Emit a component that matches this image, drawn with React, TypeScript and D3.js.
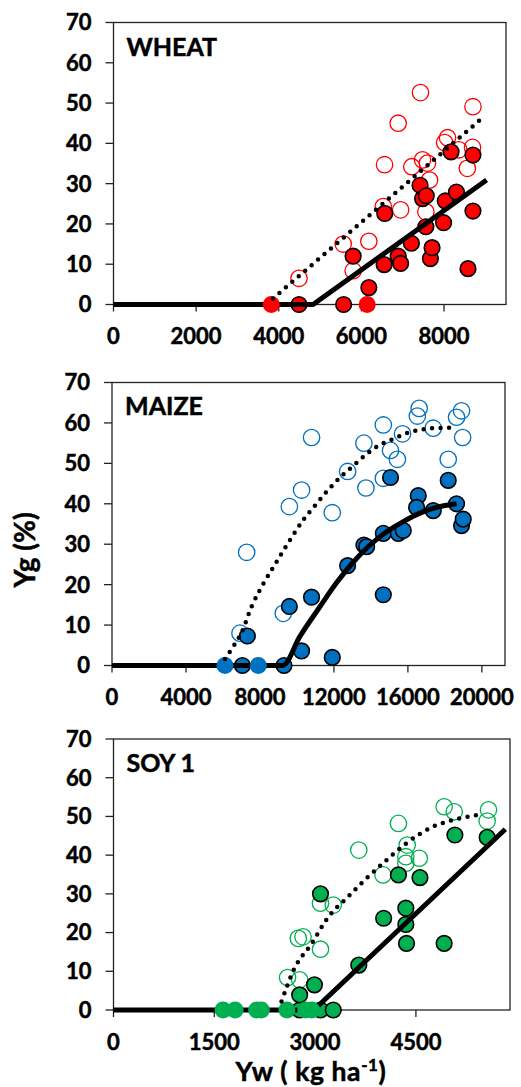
import React from 'react';
import * as d3 from 'd3';

const W = 521;
const H = 1087;
const FONT = "Lato, 'Open Sans', sans-serif";

type Pt = [number, number];

const yTicks = [0, 10, 20, 30, 40, 50, 60, 70];

// WHEAT
const wheatTicks = [0, 2000, 4000, 6000, 8000];
const wheatFilled: Pt[] = [
  [4490, 0], [5570, 0], [6180, 4.2], [5800, 12.0], [6550, 9.9], [6565, 22.6],
  [6890, 12.0], [6950, 10.2], [7210, 15.2], [7420, 29.6], [7480, 26.3],
  [7570, 27.0], [7560, 19.3], [7670, 11.4], [7710, 14.1], [7990, 20.3],
  [8030, 25.7], [8170, 37.9], [8300, 27.9], [8580, 8.9], [8700, 37.1], [8700, 23.2],
];
const wheatOpen: Pt[] = [
  [4490, 6.5], [5560, 15.0], [5800, 8.4], [6180, 15.7], [6560, 34.7], [6530, 24.3],
  [6890, 45.0], [6950, 23.5], [7220, 34.2], [7430, 52.6], [7480, 35.9], [7600, 35.1],
  [7650, 30.9], [7560, 23.0], [8015, 40.2], [8085, 41.4], [8360, 38.4], [8565, 33.8],
  [8700, 49.1], [8690, 39.0],
];
const wheatZero: Pt[] = [[3820, 0], [6140, 0]];
const wheatSolid: Pt[] = [[0, 0], [4830, 0], [9030, 30.9]];
const wheatDotted: Pt[] = [[3860, 1.5], [8950, 46.5]];

// MAIZE
const maizeTicks = [0, 4000, 8000, 12000, 16000, 20000];
const maizeFilled: Pt[] = [
  [7050, 0], [9300, 0], [7320, 7.3], [9590, 14.6], [10250, 3.6], [10790, 16.9],
  [11910, 2.0], [12740, 24.7], [13620, 29.8], [13770, 29.4], [14670, 32.7],
  [14670, 17.5], [15060, 46.5], [15480, 32.7], [15750, 33.4], [16560, 42.0],
  [16470, 39.1], [17370, 38.3], [18180, 45.8], [18630, 40.0], [18900, 34.6], [18990, 36.2],
];
const maizeOpen: Pt[] = [
  [6920, 8.0], [7280, 28.0], [9260, 12.9], [9590, 39.3], [10250, 43.4], [10790, 56.4],
  [11910, 37.8], [12740, 48.0], [13620, 55.0], [13730, 43.9], [14670, 59.5],
  [14670, 46.3], [15060, 53.2], [15430, 51.0], [15710, 57.3], [16510, 61.7],
  [16610, 63.6], [17370, 58.7], [18180, 51.0], [18630, 61.4], [18900, 63.0], [18960, 56.4],
];
const maizeZero: Pt[] = [[6110, 0], [7910, 0]];
const maizeSolid: Pt[] = [
  [0, 0], [9230, 0], [10160, 7.2], [11250, 14.6], [12150, 20.5], [13050, 25.6],
  [13950, 29.8], [14850, 33.1], [15750, 35.6], [16650, 37.7], [17550, 39.1], [18630, 40.0],
];
const maizeDotted: Pt[] = [
  [6110, 1.6], [6560, 4.7], [7010, 8.2], [7550, 14.6], [8180, 20.2], [8720, 24.3],
  [9260, 28.4], [9800, 32.3], [10340, 36.0], [10980, 39.6], [11610, 43.0],
  [12420, 46.9], [13050, 49.4], [13770, 52.3], [14490, 54.6], [15210, 56.0],
  [15840, 57.3], [16650, 58.3], [17370, 58.7], [18360, 58.8],
];

// SOY 1
const soyTicks = [0, 1500, 3000, 4500];
const soyFilled: Pt[] = [
  [2770, 0], [3080, 0], [3270, 0], [2770, 3.9], [2990, 6.5], [3080, 30.0],
  [3650, 11.6], [4020, 23.7], [4240, 34.9], [4350, 26.3], [4350, 22.1],
  [4360, 17.2], [4560, 34.2], [4920, 17.2], [5080, 45.2], [5560, 44.6],
];
const soyOpen: Pt[] = [
  [2590, 8.4], [2770, 7.8], [2750, 18.5], [2820, 18.9], [3080, 27.6], [3080, 15.7],
  [3270, 27.1], [3650, 41.3], [4010, 34.9], [4240, 48.2], [4370, 42.6], [4350, 39.6],
  [4350, 37.9], [4550, 39.2], [4920, 52.5], [5070, 51.2], [5580, 51.7], [5560, 48.8],
];
const soyZero: Pt[] = [[1630, 0], [1810, 0], [2130, 0], [2200, 0], [2580, 0], [2860, 0], [2950, 0]];
const soySolid: Pt[] = [[0, 0], [2980, 0], [5830, 46.7]];
const soyDotted: Pt[] = [
  [2500, 2.2], [2680, 10.3], [2950, 17.2], [3200, 24.1], [3470, 28.9], [3740, 33.6],
  [4010, 37.9], [4360, 43.1], [4760, 47.4], [5160, 49.5], [5500, 50.6],
];

const panels = [
  {
    name: 'WHEAT', color: '#ff0000', xMax: 9500, ticks: wheatTicks,
    filled: wheatFilled, open: wheatOpen, zero: wheatZero,
    solid: wheatSolid, dotted: wheatDotted, smooth: false,
    left: 113.5, right: 506, top: 22.5, bottom: 304.5, labelY: 56,
  },
  {
    name: 'MAIZE', color: '#0070c0', xMax: 21250, ticks: maizeTicks,
    filled: maizeFilled, open: maizeOpen, zero: maizeZero,
    solid: maizeSolid, dotted: maizeDotted, smooth: true,
    left: 112, right: 505, top: 382.5, bottom: 665.5, labelY: 415,
  },
  {
    name: 'SOY 1', color: '#00b050', xMax: 5900, ticks: soyTicks,
    filled: soyFilled, open: soyOpen, zero: soyZero,
    solid: soySolid, dotted: soyDotted, smooth: true,
    left: 113.5, right: 510, top: 739, bottom: 1010, labelY: 772,
  },
];

// bold text, thickened a little to look like the heavy original font
const txt = { fontFamily: FONT, fontWeight: 700, stroke: '#000', strokeWidth: 0.5 };

function Panel({ p }: { p: (typeof panels)[number] }) {
  const x = d3.scaleLinear().domain([0, p.xMax]).range([p.left, p.right]);
  const y = d3.scaleLinear().domain([0, 70]).range([p.bottom, p.top]);
  const straight = d3.line<Pt>().x(d => x(d[0])).y(d => y(d[1]));
  const curved = d3.line<Pt>().x(d => x(d[0])).y(d => y(d[1])).curve(d3.curveMonotoneX);
  const solidGen = p.name === 'MAIZE' ? curved : straight;
  const dottedGen = p.smooth ? curved : straight;

  return (
    <g>
      {/* frame */}
      <rect x={p.left} y={p.top} width={p.right - p.left} height={p.bottom - p.top}
        fill="none" stroke="#222" strokeWidth={1.3} />
      {yTicks.map(t => (
        <g key={'y' + t}>
          <line x1={p.left - 8} x2={p.left} y1={y(t)} y2={y(t)} stroke="#222" strokeWidth={1.3} />
          <text x={p.left - 22} y={y(t)} dy="0.36em" textAnchor="end" fontSize={22} {...txt}>{t}</text>
        </g>
      ))}
      {p.ticks.map(t => (
        <g key={'x' + t}>
          <line x1={x(t)} x2={x(t)} y1={p.bottom} y2={p.bottom + 7} stroke="#222" strokeWidth={1.3} />
          <text x={x(t)} y={p.bottom + 39.5} textAnchor="middle" fontSize={22} {...txt}>{t}</text>
        </g>
      ))}
      <text x={p.left + 13} y={p.labelY} fontSize={25} {...txt}>{p.name}</text>

      {p.open.map((d, i) => (
        <circle key={'o' + i} cx={x(d[0])} cy={y(d[1])} r={8.2} fill="none" stroke={p.color} strokeWidth={1.3} />
      ))}
      {p.filled.map((d, i) => (
        <circle key={'f' + i} cx={x(d[0])} cy={y(d[1])} r={7.8} fill={p.color} stroke="#000" strokeWidth={1.6} />
      ))}
      <path d={solidGen(p.solid) || ''} fill="none" stroke="#000" strokeWidth={5} />
      {p.zero.map((d, i) => (
        <circle key={'z' + i} cx={x(d[0])} cy={y(d[1])} r={8.5} fill={p.color} />
      ))}
      <path d={dottedGen(p.dotted) || ''} fill="none" stroke="#000" strokeWidth={4.5}
        strokeLinecap="round" strokeDasharray="0 8.5" />
    </g>
  );
}

export default function App() {
  return (
    <svg width={W} height={H} style={{ position: 'absolute', left: 0, top: 0, background: '#fff' }}>
      <rect width={W} height={H} fill="#fff" />
      {panels.map(p => <Panel key={p.name} p={p} />)}
      <text transform="translate(35,550) rotate(-90)" textAnchor="middle" fontSize={28} {...txt}>Yg (%)</text>
      <text x={311} y={1081} textAnchor="middle" fontSize={26.5} letterSpacing={0.6} {...txt}>
        Yw ( kg ha<tspan dy={-10} fontSize={17}>-1</tspan><tspan dy={10}>)</tspan>
      </text>
    </svg>
  );
}
